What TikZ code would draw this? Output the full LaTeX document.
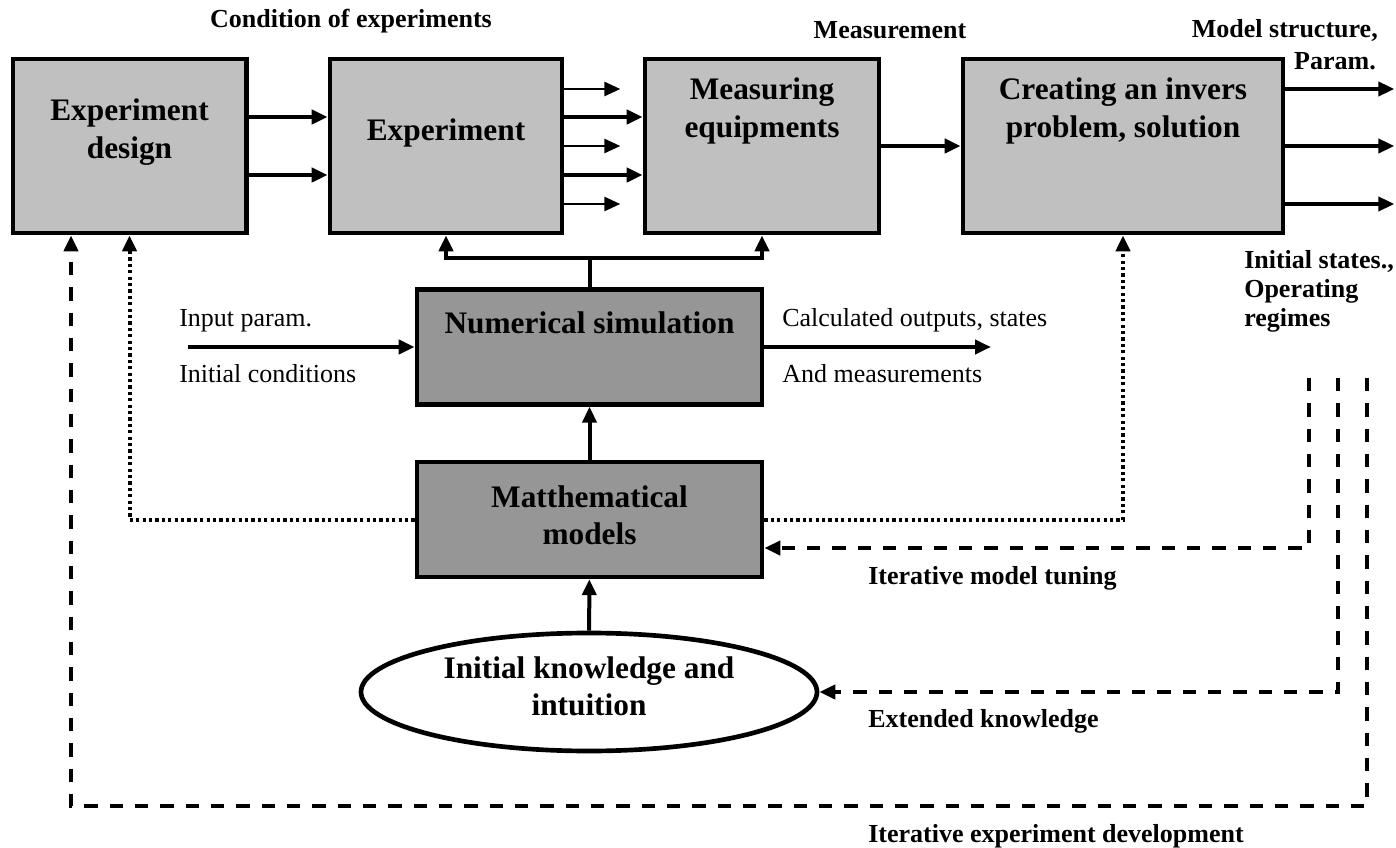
\documentclass[tikz,border=0pt]{standalone}
\usepackage{fontspec}
\setmainfont{Liberation Serif}
\usetikzlibrary{arrows.meta,shapes.geometric}
\definecolor{topgray}{HTML}{C0C0C0}
\definecolor{midgray}{HTML}{969696}

\begin{document}
\begin{tikzpicture}[x=0.75pt,y=-0.75pt,
    >={Triangle[length=12pt,width=10.5pt]},
    bigbox/.style={draw,line width=3.5pt,inner sep=0pt},
    topbox/.style={bigbox,fill=topgray,minimum height=130.5pt},
    midbox/.style={bigbox,fill=midgray,minimum width=258.75pt,minimum height=86pt},
    boxtext/.style={font=\fontsize{23.5pt}{28pt}\selectfont\bfseries,align=center,inner sep=0pt},
    note/.style={font=\fontsize{19.5pt}{21.75pt}\selectfont,inner sep=0pt},
    boldnote/.style={font=\fontsize{19.5pt}{21.75pt}\selectfont\bfseries,inner sep=0pt},
    flow/.style={->,line width=3pt},
    thinflow/.style={->,line width=2pt},
    dashline/.style={line width=3.2pt,dash pattern=on 10pt off 9pt},
    dotline/.style={line width=3pt,dash pattern=on 2.4pt off 2.4pt}]
  \useasboundingbox (0,0) rectangle (1396,848);

  % boxes
  \node[topbox,minimum width=175pt] (expdesign) at (129.5,146) {};
  \node[topbox,minimum width=174pt] (experiment) at (446,146) {};
  \node[topbox,minimum width=175.5pt] (measuring) at (762,146) {};
  \node[topbox,minimum width=240pt] (inverse) at (1123,146) {};
  \node[midbox] (numsim) at (589.5,347) {};
  \node[midbox] (mathmod) at (589.5,519.5) {};
  \node[ellipse,draw,line width=3.5pt,fill=white,inner sep=0pt,
        minimum width=342pt,minimum height=88.5pt] (idea) at (589,692) {};

  % box texts
  \node[boxtext] (edtext) at (129.5,132) {Experiment\\design};
  \node[boxtext] (exptext) at (446,133) {Experiment};
  \node[boxtext] (meastext) at (762,111) {Measuring\\equipments};
  \node[boxtext] (invtext) at (1123,111) {Creating an invers\\problem, solution};
  \node[boxtext] (simtext) at (589.5,323) {Numerical simulation};
  \node[boxtext] (mathtext) at (589.5,515) {Matthematical\\models};
  \node[boxtext] (ideatext) at (589,686) {Initial knowledge and\\intuition};

  % top row
  \draw[flow] ([yshift=21.75pt]expdesign.east) -- ([yshift=21.75pt]experiment.west);
  \draw[flow] ([yshift=-21.75pt]expdesign.east) -- ([yshift=-21.75pt]experiment.west);
  \draw[flow] ([yshift=21.75pt]experiment.east) -- ([yshift=21.75pt]measuring.west);
  \draw[flow] ([yshift=-21.75pt]experiment.east) -- ([yshift=-21.75pt]measuring.west);
  \foreach \dy in {42.75pt,0pt,-43.5pt}
    \draw[thinflow] ([yshift=\dy]experiment.east) -- ++(56,0);
  \draw[flow] (measuring.east) -- (inverse.west);
  \foreach \dy in {42.75pt,0pt,-43.5pt}
    \draw[flow] ([yshift=\dy]inverse.east) -- ++(109,0);

  % simulation
  \draw[flow] (numsim.north) -- ++(0,-29) -| (experiment.south);
  \draw[flow] (numsim.north) -- ++(0,-29) -| (measuring.south);
  \coordinate (inparam) at (188,347);
  \coordinate (calcout) at (991,347);
  \draw[flow] (inparam) -- (numsim.west);
  \draw[flow] (numsim.east) -- (calcout);
  \draw[flow] (mathmod) -- (numsim);
  \draw[flow] (idea) -- (mathmod);

  % dotted links
  \draw[dotline,->] (mathmod.west) -| (expdesign.south);
  \draw[dotline,->] (mathmod.east) -| (inverse.south);

  % feedback loops
  \coordinate (tuneA) at (1309,378);
  \coordinate (knowA) at (1338,378);
  \coordinate (devA) at (1367,378);
  \coordinate (devB) at (71,806);
  \draw[dashline,->] (tuneA) |- ([yshift=-21.4pt]mathmod.east);
  \draw[dashline,->] (knowA) |- (idea.east);
  \draw[dashline,->] (devA) |- (devB) -- (devB |- expdesign.south);

  % labels
  \node[boldnote,anchor=base] (condlbl) at (351,28) {Condition of experiments};
  \node[boldnote,anchor=base] (measlbl) at (890,39) {Measurement};
  \node[boldnote,anchor=base east] (structlbl) at (1378,38) {Model structure,};
  \node[boldnote,anchor=base east] (paramlbl) at (1376,70) {Param.};
  \node[boldnote,anchor=north west,align=left] (statelbl) at (1244,250) {Initial states.,\\Operating\\regimes};
  \node[note,anchor=base west] (inlbl) at (179,327) {Input param.};
  \node[note,anchor=base west] (initlbl) at (179,383) {Initial conditions};
  \node[note,anchor=base west] (calclbl) at (782,327) {Calculated outputs, states};
  \node[note,anchor=base west] (andlbl) at (782,383) {And measurements};
  \node[boldnote,anchor=base west] (tunelbl) at (868,584) {Iterative model tuning};
  \node[boldnote,anchor=base west] (extlbl) at (868,727) {Extended knowledge};
  \node[boldnote,anchor=base west] (devlbl) at (868,842) {Iterative experiment development};
\end{tikzpicture}
\end{document}
